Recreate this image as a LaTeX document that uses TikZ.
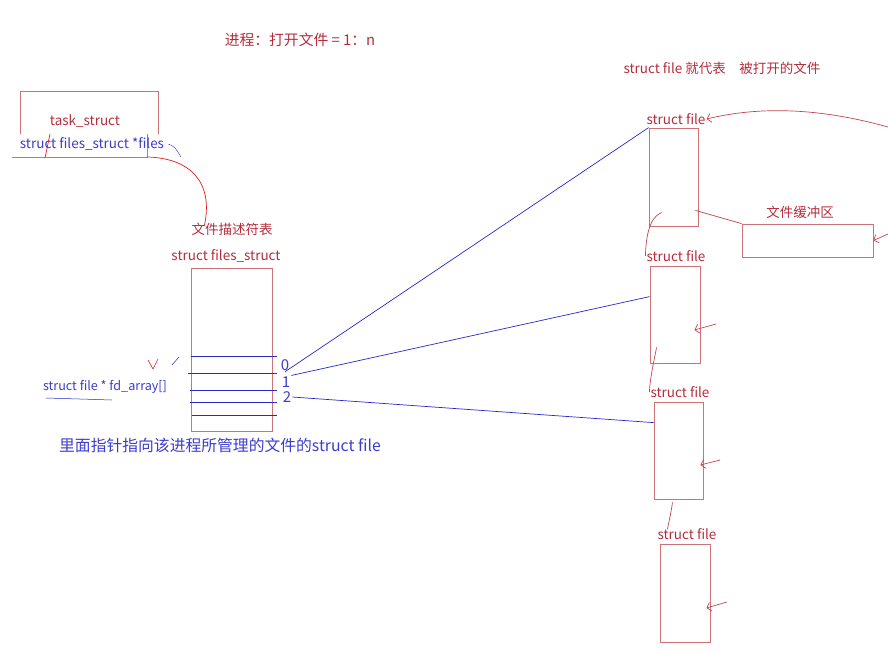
\documentclass[tikz,border=0pt]{standalone}
\usepackage{fontspec}
\setmainfont{Noto Sans CJK SC}
\usetikzlibrary{calc,positioning,arrows.meta}
\definecolor{txtred}{RGB}{180,45,60}
\definecolor{boxred}{RGB}{205,115,120}
\definecolor{penred}{RGB}{225,30,35}
\definecolor{linered}{RGB}{190,70,80}
\definecolor{txtblue}{RGB}{60,60,205}
\definecolor{lineblue}{RGB}{40,40,200}

\begin{document}
\begin{tikzpicture}[
    x=1pt, y=-1pt,
    every node/.style={font=\fontsize{13.5}{15}\selectfont, inner sep=1pt},
    redtxt/.style={text=txtred},
    bluetxt/.style={text=txtblue},
    filebox/.style={draw=boxred, line width=0.8pt, minimum width=#1},
    filebox/.default=49pt,
    bluepen/.style={draw=lineblue, line width=0.7pt},
    redpen/.style={draw=linered, line width=0.7pt},
    barb/.style={-{Straight Barb[length=4pt,width=9pt]}},
  ]
    \useasboundingbox (0,0) rectangle (888,651);

    % Заголовки
    \node[redtxt, font=\fontsize{14.8}{16}\selectfont] (title) at (300,40) {进程：打开文件 = 1：n};
    \node[redtxt] (note) at (722,68) {struct file 就代表\quad 被打开的文件};

    % task_struct
    \draw[draw=boxred, line width=0.8pt] (20,134) |- (158,91) -- (158,134);
    \draw[draw=boxred, line width=0.8pt] (12,157) -| (147,134);
    \coordinate (tcorner) at (147,157);
    \node[redtxt] (task) at (85,121) {task\_struct};
    \node[bluetxt] (files) at (92,144) {struct files\_struct *files};
    \draw[draw=penred, line width=0.7pt] (50,134) -- (45,158);
    \draw[bluepen, line width=0.4pt] (files.east) ++(3,0) .. controls (175,147) .. (181,157);

    % Таблица дескрипторов
    \node[redtxt] (fdlab) at (232,229) {文件描述符表};
    \node[redtxt] (fslab) at (226,256) {struct files\_struct};
    \node[filebox=81pt, minimum height=163pt] (fdtab) at (231.5,349.5) {};
    \foreach \y/\x in {356/191, 373/188, 390/190, 402/190, 415/192}
      \draw[bluepen] (\x,\y) -- (277,\y);
    \node[bluetxt, font=\fontsize{15}{16}\selectfont] (n0) at (285,365) {0};
    \node[bluetxt, font=\fontsize{15}{16}\selectfont] (n1) at (286,382) {1};
    \node[bluetxt, font=\fontsize{15}{16}\selectfont] (n2) at (287,397) {2};
    \draw[draw=penred, line width=0.7pt] (tcorner) .. controls (190,158) and (214,182) .. ($(fdlab.west)+(14,-3)$);

    \node[bluetxt, font=\fontsize{12.6}{14}\selectfont] (fdarr) at (105,387) {struct file * fd\_array[]};
    \draw[bluepen, line width=0.5pt] (46,398) .. controls (80,399) .. (112,400);
    \draw[draw=penred, line width=0.6pt] (148,360) -- (153,369) -- (158,359);
    \draw[bluepen, line width=0.5pt] (172,365) -- (179,357);
    \node[bluetxt, font=\fontsize{15.8}{18}\selectfont] (expl) at (220,445)
      {里面指针指向该进程所管理的文件的struct file};

    % struct file
    \node[filebox, minimum height=98pt] (f1) at (673.5,177) {};
    \node[filebox=50pt, minimum height=97pt] (f2) at (675,314.5) {};
    \node[filebox, minimum height=97pt] (f3) at (678.5,450.5) {};
    \node[filebox=50pt, minimum height=98pt] (f4) at (685,593) {};
    \node[redtxt] (f1lab) at (676,119) {struct file};
    \node[redtxt] (f2lab) at (676,256) {struct file};
    \node[redtxt] (f3lab) at (680,392) {struct file};
    \node[redtxt] (f4lab) at (687,534) {struct file};

    % Буфер
    \node[redtxt] (buflab) at (800,212) {文件缓冲区};
    \node[filebox=131pt, minimum height=33pt] (buf) at (807.5,240.5) {};

    % Указатели fd_array
    \draw[bluepen] (n0.south) -- (f1.north west);
    \draw[bluepen] (n1.north east) -- ($(f2.north west)+(0,31)$);
    \draw[bluepen] (n2.east) -- ($(f3.north west)+(0,21)$);

    % Связи между struct file
    \coordinate (right1) at (888,127);
    \draw[redpen, barb] (right1) .. controls (820,108) and (760,106) .. (f1lab.east);
    \draw[redpen] ($(f1.south east)+(-3,-16)$) -- (buf.north west);
    \coordinate (right2) at (888,234);
    \draw[redpen, barb] (right2) -- (buf.east);
    \draw[redpen] ($(f1.south west)+(13,-14)$) .. controls (648,218) and (646,240) .. (f2lab.west);
    \draw[redpen] ($(f2.south west)+(7,-16)$) .. controls (652,370) and (650,380) .. (f3lab.west);
    \draw[redpen] ($(f3.south)+(-6,3)$) .. controls (671,512) .. ($(f4lab.north west)+(11,2)$);
    \draw[redpen, barb] (716,324) -- ($(f2.east)+(-6,15.5)$);
    \draw[redpen, barb] (720,460) -- ($(f3.east)+(-3,14.5)$);
    \draw[redpen, barb] (727,602) -- ($(f4.east)+(-4,15)$);
  \end{tikzpicture}
\end{document}
